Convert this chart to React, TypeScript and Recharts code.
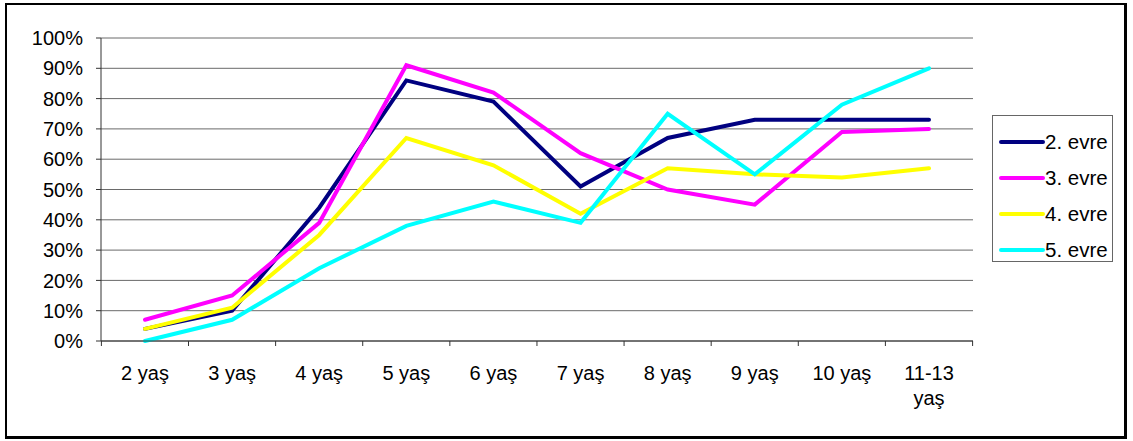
import React from 'react';
import { LineChart, Line, XAxis, YAxis, CartesianGrid, Legend } from 'recharts';

const categories = ['2 yaş', '3 yaş', '4 yaş', '5 yaş', '6 yaş', '7 yaş', '8 yaş', '9 yaş', '10 yaş', '11-13 yaş'];
const evre2 = [4, 10, 44, 86, 79, 51, 67, 73, 73, 73];
const evre3 = [7, 15, 39, 91, 82, 62, 50, 45, 69, 70];
const evre4 = [4, 11, 35, 67, 58, 42, 57, 55, 54, 57];
const evre5 = [0, 7, 24, 38, 46, 39, 75, 55, 78, 90];
const seriesNames = ['2. evre', '3. evre', '4. evre', '5. evre'];
const seriesColors = ['#000080', '#FF00FF', '#FFFF00', '#00FFFF'];
const yTicks = [0, 10, 20, 30, 40, 50, 60, 70, 80, 90, 100];

const data = categories.map((c, i) => ({
  cat: c,
  s2: evre2[i],
  s3: evre3[i],
  s4: evre4[i],
  s5: evre5[i],
}));
const keys = ['s2', 's3', 's4', 's5'];

const FONT = '"Liberation Sans", Arial, sans-serif';
const HALF_BAND = 43.6;

const XTick = (props: any) => {
  const { x, payload, index } = props;
  const label: string = payload.value;
  let lines = [label];
  if (label.length > 6) {
    const k = label.lastIndexOf(' ');
    lines = [label.slice(0, k), label.slice(k + 1)];
  }
  const axisY = 341;
  return (
    <g>
      <line x1={x - HALF_BAND} x2={x - HALF_BAND} y1={axisY} y2={axisY + 5} stroke="#333" strokeWidth={1} />
      {index === categories.length - 1 && (
        <line x1={x + HALF_BAND} x2={x + HALF_BAND} y1={axisY} y2={axisY + 5} stroke="#333" strokeWidth={1} />
      )}
      <text x={x} y={axisY + 39} textAnchor="middle" fontFamily={FONT} fontSize={20} fill="#000">
        {lines.map((l, i) => (
          <tspan key={i} x={x} dy={i === 0 ? 0 : 25}>{l}</tspan>
        ))}
      </text>
    </g>
  );
};

const LegendContent = (props: any) => {
  const { payload } = props;
  return (
    <div style={{ width: 121, height: 147, border: '1px solid #666', boxSizing: 'border-box', background: '#fff', paddingTop: 8 }}>
      {payload.map((p: any, i: number) => (
        <div key={i} style={{ display: 'flex', alignItems: 'center', height: 36, paddingLeft: 6 }}>
          <svg width={46} height={8}>
            <line x1={2} x2={44} y1={4} y2={4} stroke={p.color} strokeWidth={4} strokeLinecap="round" />
          </svg>
          <span style={{ fontFamily: FONT, fontSize: 20.5, color: '#000', marginLeft: 0 }}>{p.value}</span>
        </div>
      ))}
    </div>
  );
};

export default function App() {
  return (
    <div style={{ position: 'absolute', left: 0, top: 0, width: 1133, height: 441, background: '#fff' }}>
      <div
        style={{
          position: 'absolute',
          left: 5,
          top: 3,
          width: 1122,
          height: 436,
          boxSizing: 'border-box',
          borderLeft: '2px solid #000',
          borderTop: '2px solid #000',
          borderRight: '3px solid #000',
          borderBottom: '3px solid #000',
        }}
      />
      <div style={{ position: 'absolute', left: 0, top: 0 }}>
        <LineChart width={1133} height={441} data={data} margin={{ top: 38, right: 39, bottom: 60, left: 0 }}>
          <CartesianGrid vertical={false} stroke="#6a6a6a" strokeWidth={1} />
          <XAxis
            dataKey="cat"
            height={40}
            padding={{ left: 44, right: 44 }}
            axisLine={{ stroke: '#333', strokeWidth: 1 }}
            tickLine={false}
            tick={<XTick />}
            interval={0}
          />
          <YAxis
            width={101}
            domain={[0, 100]}
            ticks={yTicks}
            interval={0}
            tickFormatter={(v: number) => `${v}%`}
            axisLine={{ stroke: '#333', strokeWidth: 1 }}
            tickLine={{ stroke: '#333', strokeWidth: 1 }}
            tickSize={5}
            tickMargin={13}
            tick={{ fontFamily: FONT, fontSize: 20, fill: '#000' }}
          />
          <Legend
            layout="vertical"
            align="right"
            verticalAlign="middle"
            content={<LegendContent />}
            wrapperStyle={{ position: 'absolute', left: 992, top: 115, width: 121, height: 147 }}
          />
          {keys.map((k, i) => (
            <Line
              key={k}
              type="linear"
              dataKey={k}
              name={seriesNames[i]}
              stroke={seriesColors[i]}
              strokeWidth={4}
              dot={false}
              activeDot={false}
              strokeLinecap="round"
              isAnimationActive={false}
            />
          ))}
        </LineChart>
      </div>
    </div>
  );
}
